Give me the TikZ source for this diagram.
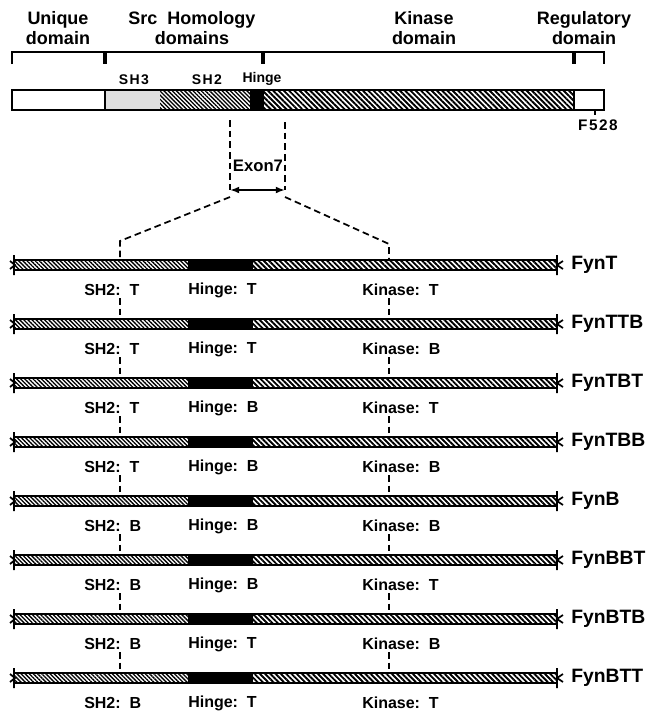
\documentclass[tikz,border=0pt]{standalone}
\usepackage{fontspec}
\setmainfont{Liberation Sans}
\usetikzlibrary{arrows.meta, patterns.meta, calc}

\begin{document}
\begin{tikzpicture}[x=0.75pt, y=-0.75pt,
    dom/.style={align=center, font=\fontsize{13.5}{14.5}\selectfont\bfseries},
    sub/.style={font=\fontsize{10.5}{11}\selectfont\bfseries\addfontfeature{LetterSpace=10}},
    lbl/.style={anchor=west, inner sep=0pt, font=\fontsize{12}{13}\selectfont\bfseries},
    fyn/.style={anchor=west, inner sep=0pt, font=\fontsize{14.5}{16}\selectfont\bfseries},
    dsh/.style={line width=1.3pt, dash pattern=on 5pt off 3pt},
    brk/.style={line width=1.3pt},
    hatchA/.style={pattern={Lines[angle=-45, distance=2.2pt, line width=1pt]}},
    hatchB/.style={pattern={Lines[angle=-45, distance=2.8pt, line width=1.4pt]}},
    arr/.style={{Latex[length=2.4mm]}-{Latex[length=2.4mm]}, line width=1.3pt}]
  \useasboundingbox (0,0) rectangle (647,715);

  % domain labels and bracket
  \node[dom] (unique) at (58,28)  {Unique\\domain};
  \node[dom] (src)    at (192,28) {Src\ \ Homology\\domains};
  \node[dom] (kinase) at (424,28) {Kinase\\domain};
  \node[dom] (regul)  at (584,28) {Regulatory\\domain};
  \draw[line width=1.3pt] (12,64) -- (12,52) -- (604,52) -- (604,64);
  \foreach \x in {105,263,574}
    \draw[line width=2.6pt] (\x,52) -- (\x,64);

  % full length protein
  \fill[black!13] (105,90) rectangle (160,110);
  \fill[white] (160,90) rectangle (250,110);
  \fill[hatchA] (160,90) rectangle (250,110);
  \fill (250,90) rectangle (264,110);
  \fill[white] (264,90) rectangle (574,110);
  \fill[hatchB] (264,90) rectangle (574,110);
  \draw[line width=1.8pt] (12,90) rectangle (604,110);
  \draw[line width=1.3pt] (105,90) -- (105,110) (574,90) -- (574,110);
  \node[sub] (sh3)   at (134,80) {SH3};
  \node[sub] (sh2)   at (207,80) {SH2};
  \node[sub, font=\fontsize{10.5}{11}\selectfont\bfseries] (hinge) at (262,79) {Hinge};
  \coordinate (ftick) at (595,110);
  \node[sub, font=\fontsize{11.5}{12}\selectfont\bfseries\addfontfeature{LetterSpace=10}] (f528) at (598,125) {F528};
  \draw[line width=1.8pt] (ftick) -- (f528.north -| ftick);

  % exon 7
  \coordinate (ea) at (230,120);
  \coordinate (eb) at (230,190);
  \coordinate (ec) at (285,122);
  \coordinate (ed) at (285,190);
  \node[font=\fontsize{12.5}{14}\selectfont\bfseries] (exon) at (258,166) {Exon7};
  \draw[dsh] (ea) -- (eb);
  \draw[dsh] (ec) -- (ed);
  \draw[arr] (eb) -- (ed);
  \coordinate (el) at (230,197);
  \coordinate (er) at (285,197);
  \coordinate (elb) at (120,241);
  \coordinate (erb) at (389,244);

  % isoforms
  \foreach \nm/\sh/\hg/\kn [count=\i from 0] in {FynT/T/T/T, FynTTB/T/T/B,
      FynTBT/T/B/T, FynTBB/T/B/B, FynB/B/B/B, FynBBT/B/B/T, FynBTB/B/T/B,
      FynBTT/B/T/T}{
    \pgfmathsetmacro\y{265+59*\i}
    \fill[white] (14,\y-5) rectangle (556,\y+5);
    \fill[hatchA] (14,\y-5) rectangle (188,\y+5);
    \fill (188,\y-5) rectangle (253,\y+5);
    \fill[hatchB] (253,\y-5) rectangle (556,\y+5);
    \draw[line width=1.7pt] (14,\y-5) -- (556,\y-5) (14,\y+5) -- (556,\y+5);
    \draw[brk] (14,\y-10) -- (14,\y+10) (10,\y-4) -- (15,\y) -- (10,\y+4);
    \draw[brk] (557,\y-10) -- (557,\y+10) (563,\y-4) -- (557,\y) -- (563,\y+4);
    \node[fyn] (\nm) at (571,\y) {\nm};
    \node[lbl] (s\i) at (84,\y+25)  {SH2:\ \ \sh};
    \node[lbl] (h\i) at (188,\y+25) {Hinge:\ \ \hg};
    \node[lbl] (k\i) at (362,\y+25) {Kinase:\ \ \kn};
    \coordinate (sa\i) at (120,\y+33);
    \coordinate (sb\i) at (120,\y-6);
    \coordinate (ka\i) at (389,\y+33);
    \coordinate (kb\i) at (389,\y-6);
  }
  \draw[dsh] (el) -- (elb) -- (sb0);
  \draw[dsh] (er) -- (erb) -- (kb0);
  \foreach \i [evaluate=\i as \j using int(\i+1)] in {0,...,6}{
    \draw[dsh] (sa\i) -- (sb\j);
    \draw[dsh] (ka\i) -- (kb\j);
  }
\end{tikzpicture}
\end{document}
